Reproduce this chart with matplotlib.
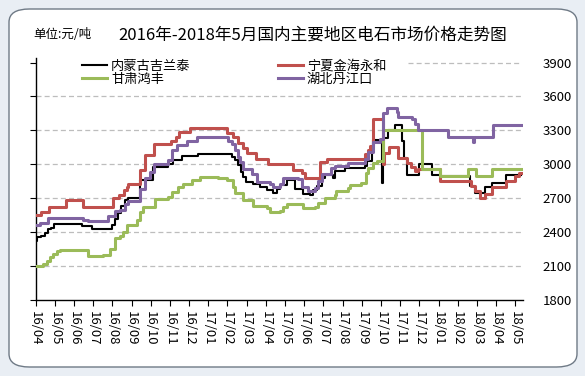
import matplotlib

matplotlib.use("Agg")
import matplotlib.pyplot as plt
from matplotlib.patches import FancyBboxPatch

plt.rcParams["font.family"] = ["Noto Sans CJK SC", "DejaVu Sans"]

# x = months since 2016-04-01, step data (price changes)
MONTH_LABELS = [
    "16/04", "16/05", "16/06", "16/07", "16/08", "16/09", "16/10", "16/11", "16/12",
    "17/01", "17/02", "17/03", "17/04", "17/05", "17/06", "17/07", "17/08", "17/09",
    "17/10", "17/11", "17/12", "18/01", "18/02", "18/03", "18/04", "18/05",
]

nm_t = [0, 0.06, 0.28, 0.49, 0.65, 0.80, 0.96, 2.40, 2.92, 3.96, 4.14, 4.29, 4.47, 4.66,
        4.80, 5.44, 6.11, 6.90, 7.16, 7.62, 8.46, 9.34, 10.21, 10.39, 10.54, 10.73, 10.82,
        10.99, 11.32, 11.69, 12.04, 12.36, 12.56, 12.73, 13.08, 13.51, 13.93, 14.29, 14.45,
        14.66, 14.90, 15.07, 15.49, 15.59, 16.11, 17.16, 17.26, 17.52, 17.57, 18.07, 18.12,
        18.35, 18.75, 19.10, 19.22, 19.35, 20.00, 20.66, 21.06, 22.63, 22.89, 23.41, 23.76,
        24.54, 25.30]
nm_v = [2320, 2360, 2370, 2390, 2430, 2440, 2475, 2450, 2430, 2460, 2515, 2570, 2630, 2680,
        2705, 2860, 2980, 3005, 3035, 3070, 3095, 3090, 3065, 3035, 2990, 2930, 2890,
        2845, 2825, 2800, 2775, 2745, 2780, 2815, 2865, 2785, 2735, 2727, 2770,
        2810, 2880, 2905, 2880, 2940, 2965, 2985, 3030, 3150, 3215, 2835, 3230,
        3300, 3350, 3210, 3060, 2905, 3000, 2905, 2895, 2805, 2745, 2795, 2835,
        2905, 2905]

nx_t = [0, 0.27, 0.70, 1.58, 2.48, 4.05, 4.34, 4.60, 4.76, 4.81, 5.44, 5.70, 6.17, 7.05,
        7.31, 7.47, 8.04, 9.98, 10.30, 10.54, 10.80, 11.01, 11.48, 12.10, 13.41, 13.88,
        14.03, 14.82, 15.16, 17.16, 17.31, 17.42, 17.57, 18.09, 18.17, 18.41, 18.88, 19.34,
        19.54, 19.76, 19.91, 21.06, 22.71, 22.89, 23.15, 23.41, 23.76, 24.54, 24.97, 25.20,
        25.30]
nx_v = [2550, 2580, 2620, 2680, 2620, 2700, 2730, 2775, 2800, 2830, 2950, 3080, 3180, 3210,
        3240, 3290, 3320, 3275, 3240, 3190, 3140, 3100, 3050, 3000, 2950, 2920,
        2880, 3024, 3050, 3090, 3130, 3165, 3405, 3000, 3100, 3156, 3060, 3015,
        2976, 2940, 2955, 2855, 2805, 2760, 2700, 2740, 2795, 2855, 2895, 2925,
        2925]

gs_t = [0, 0.39, 0.58, 0.75, 0.91, 1.10, 1.27, 2.74, 3.51, 3.88, 4.14, 4.40, 4.57, 4.74,
        5.27, 5.44, 5.59, 6.22, 6.90, 7.09, 7.42, 7.68, 8.13, 8.56, 9.50, 9.95, 10.30,
        10.39, 10.82, 11.34, 12.04, 12.21, 12.73, 12.90, 13.08, 13.93, 14.55, 14.71, 15.07,
        15.59, 15.68, 16.27, 16.38, 16.98, 17.24, 17.33, 17.57, 17.77, 18.11, 20.14, 21.06,
        22.54, 22.97, 23.76, 25.30]
gs_v = [2100, 2115, 2145, 2180, 2210, 2230, 2245, 2190, 2200, 2255, 2350, 2370, 2400, 2460,
        2506, 2580, 2625, 2690, 2712, 2755, 2800, 2830, 2865, 2890, 2875, 2860, 2800,
        2745, 2680, 2630, 2610, 2580, 2590, 2625, 2653, 2610, 2625, 2655, 2700,
        2730, 2760, 2790, 2820, 2835, 2925, 2970, 3015, 3030, 3300, 2955, 2895,
        2955, 2895, 2955, 2955]

hb_t = [0, 0.23, 0.65, 2.47, 2.73, 3.77, 4.14, 4.40, 4.66, 4.81, 5.44, 5.70, 5.96, 6.17,
        6.90, 7.10, 7.36, 7.89, 8.41, 10.02, 10.21, 10.39, 10.54, 10.65, 10.79, 11.26,
        11.52, 12.21, 12.36, 12.73, 12.90, 13.67, 13.86, 14.19, 14.55, 14.71, 14.90,
        15.42, 15.59, 16.27, 17.16, 17.31, 17.57, 17.94, 18.09, 18.30, 18.82, 18.88,
        19.61, 19.76, 19.92, 21.48, 22.78, 22.86, 23.82, 25.30]
hb_v = [2465, 2485, 2525, 2510, 2500, 2540, 2590, 2600, 2645, 2675, 2785, 2875, 2930, 3005,
        3040, 3125, 3175, 3210, 3240, 3210, 3180, 3125, 3065, 3020, 2960, 2918,
        2845, 2830, 2800, 2830, 2875, 2870, 2800, 2765, 2790, 2850, 2910,
        2965, 2985, 3015, 3045, 3105, 3195, 3225, 3450, 3495, 3465, 3420,
        3405, 3360, 3300, 3245, 3195, 3245, 3345, 3345]

fig = plt.figure(figsize=(5.85, 3.76), dpi=100)
fig.patch.set_facecolor("#e9eef4")
frame = FancyBboxPatch((9 / 585, 9 / 376), 568 / 585, 358 / 376,
                       boxstyle="round,pad=0,rounding_size=0.035",
                       transform=fig.transFigure, facecolor="white",
                       edgecolor="#6f7a86", linewidth=1.0, zorder=-5)
fig.patches.append(frame)

ax = fig.add_axes([35.6 / 585, 76 / 376, 487.4 / 585, 242 / 376])
ax.set_facecolor("none")

# gridlines (3900 line hidden behind legend on the left)
for lvl in [2100, 2400, 2700, 3000, 3300, 3600]:
    ax.axhline(lvl, color="#bdbdbd", lw=0.9, ls=(0, (4, 2.5)), zorder=0)
ax.hlines(3900, 19.4, 25.3, color="#bdbdbd", lw=0.9, ls=(0, (4, 2.5)), zorder=0)

ax.plot(nm_t, nm_v, color="black", lw=1.5, drawstyle="steps-post", label="内蒙古吉兰泰", zorder=2)
ax.plot(gs_t, gs_v, color="#9bbb59", lw=2.2, drawstyle="steps-post", label="甘肃鸿丰", zorder=4)
ax.plot(nx_t, nx_v, color="#c0504d", lw=2.2, drawstyle="steps-post", label="宁夏金海永和", zorder=3)
ax.plot(hb_t, hb_v, color="#8064a2", lw=2.2, drawstyle="steps-post", label="湖北丹江口", zorder=5)

ax.set_xlim(0, 25.4)
ax.set_ylim(1800, 3940)
ax.set_xticks(range(len(MONTH_LABELS)))
ax.set_xticklabels(MONTH_LABELS, rotation=-90, fontsize=9.5)
ax.set_yticks([1800, 2100, 2400, 2700, 3000, 3300, 3600, 3900])
ax.tick_params(axis="y", which="both", left=True, right=False, labelleft=False,
               labelright=True, direction="out", length=4, labelsize=9.5, pad=10)
ax.tick_params(axis="x", direction="out", length=4, pad=4)
for s in ["top", "right"]:
    ax.spines[s].set_visible(False)
ax.spines["left"].set_linewidth(1.0)
ax.spines["bottom"].set_linewidth(1.0)

handles, labels = ax.get_legend_handles_labels()
ax.legend(handles, labels, ncol=2, loc="upper left",
          bbox_to_anchor=(82 / 585, 1 - 60 / 376), bbox_transform=fig.transFigure,
          frameon=False, fontsize=9.5, labelspacing=0.0, columnspacing=6.6,
          handlelength=1.9, handletextpad=0.3, borderpad=0, borderaxespad=0)

fig.text(33 / 585, 1 - 35 / 376, "单位:元/吨", fontsize=9, va="center", ha="left")
fig.text(313 / 585, 1 - 35 / 376, "2016年-2018年5月国内主要地区电石市场价格走势图",
         fontsize=12, va="center", ha="center")

fig.savefig("out.png", dpi=100)
